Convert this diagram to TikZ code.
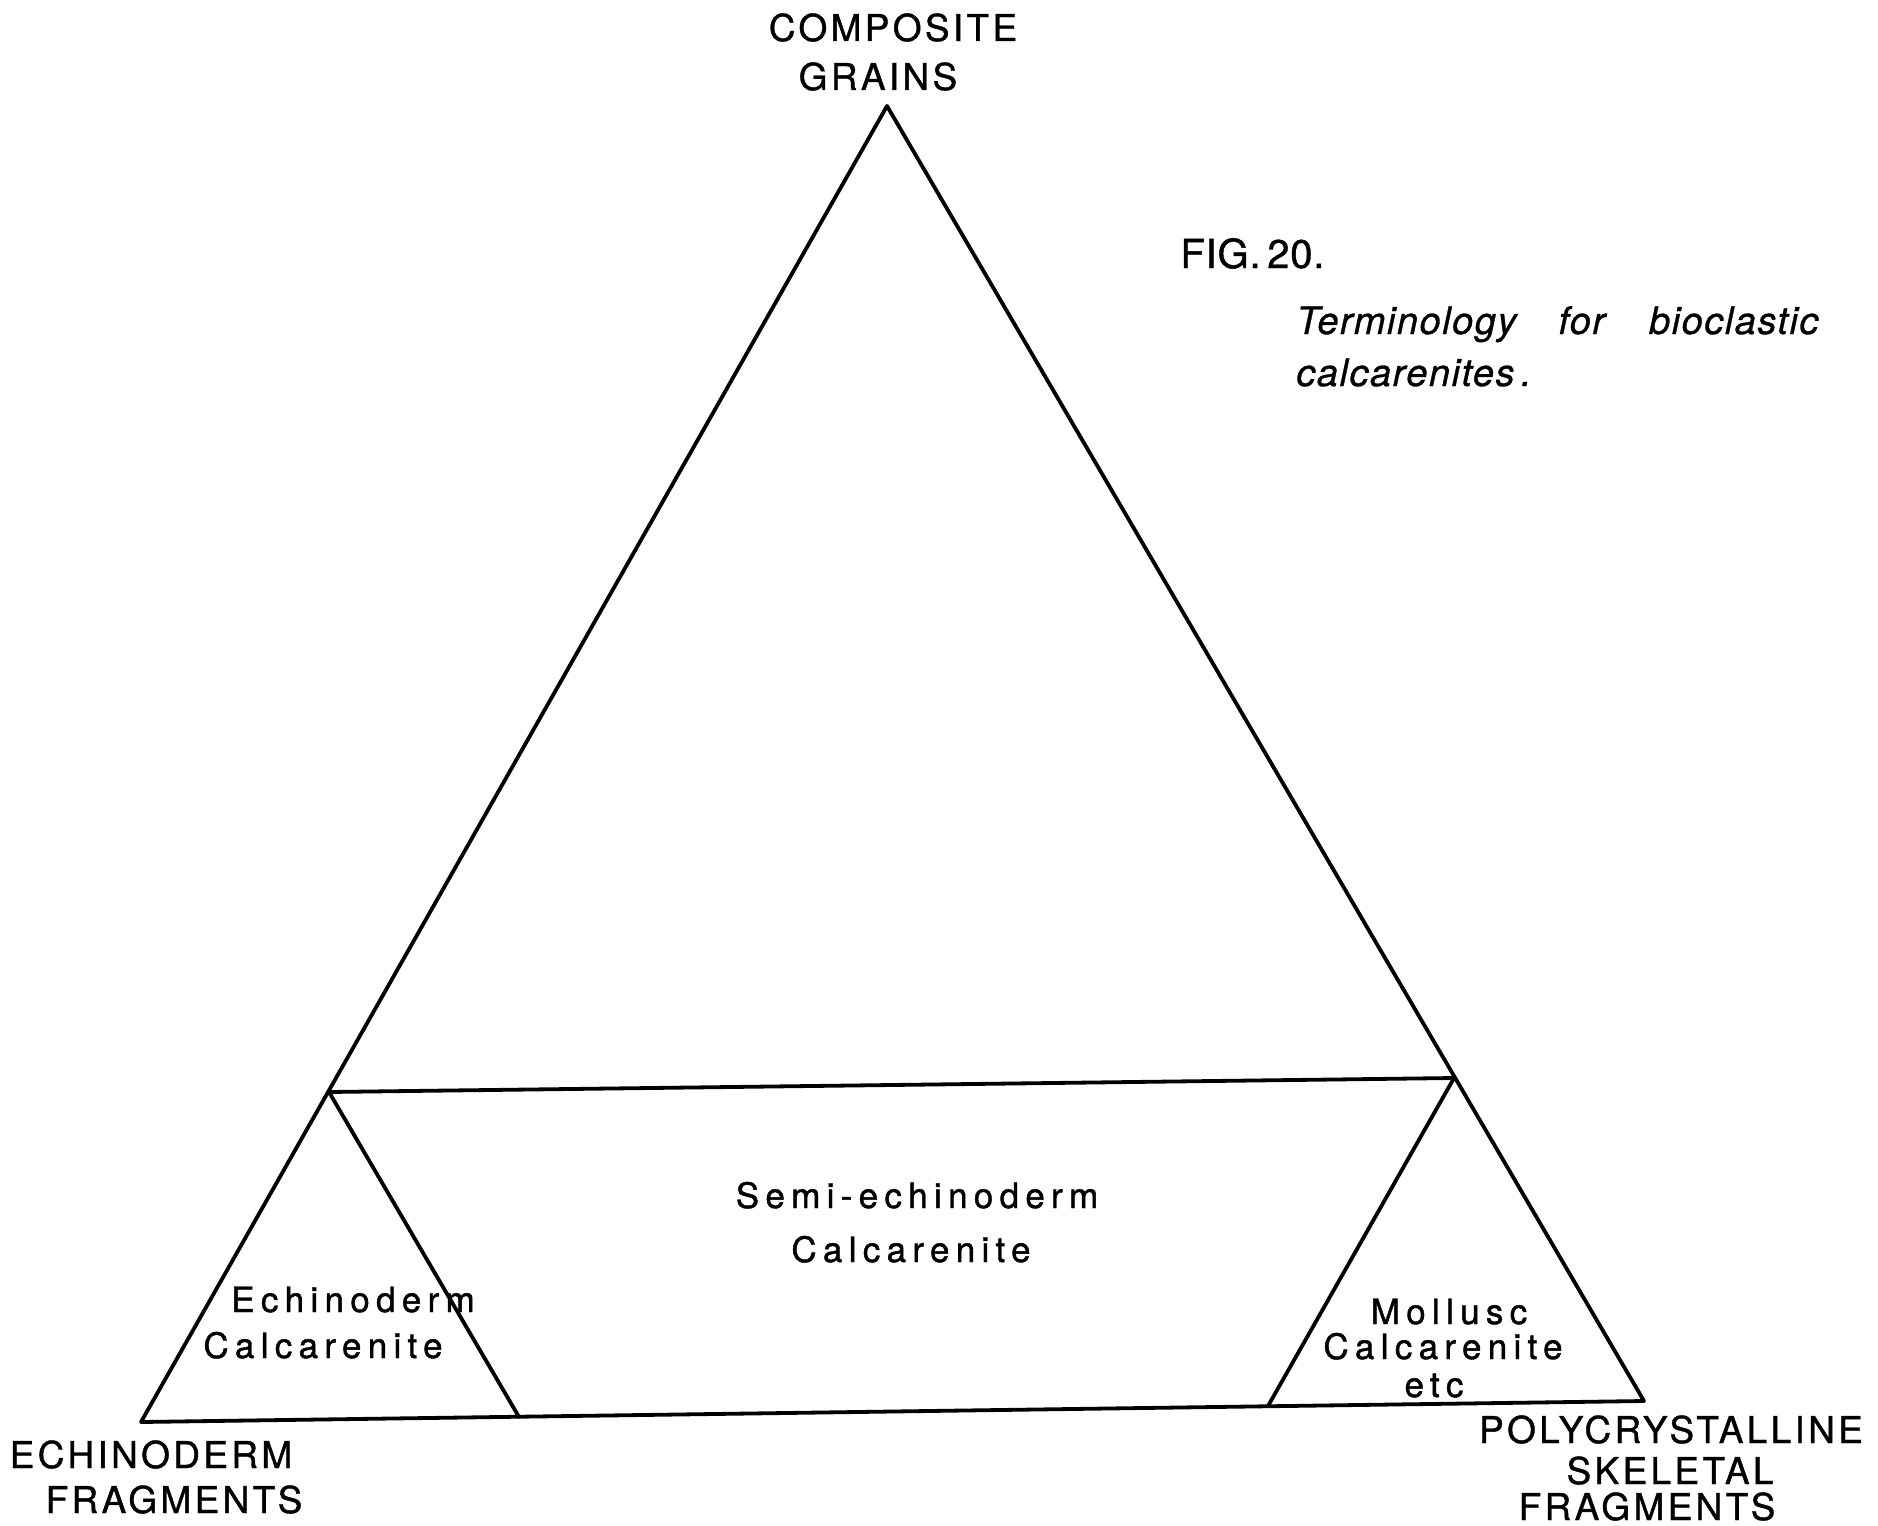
\documentclass[tikz,border=0pt]{standalone}
\usepackage{fontspec}
\setmainfont{TeX Gyre Heros}
\newfontfamily\capsfont[LetterSpace=9,FakeBold=1]{TeX Gyre Heros}
\newfontfamily\lowfont[LetterSpace=18,FakeBold=1.2]{TeX Gyre Heros}
\newfontfamily\figfont[LetterSpace=2,FakeBold=1]{TeX Gyre Heros}
\newfontfamily\capfont[LetterSpace=4,FakeBold=0.8]{TeX Gyre Heros}
\begin{document}
\begin{tikzpicture}[x=0.5pt,y=-0.5pt,
  edge/.style={line width=1.9pt, line join=round, line cap=round},
  capl/.style={font=\capsfont\fontsize{18.5}{22}\selectfont, anchor=base, inner sep=0pt},
  lowl/.style={font=\lowfont\fontsize{17.5}{20}\selectfont, anchor=base, inner sep=0pt},
  figl/.style={font=\figfont\fontsize{20}{24}\selectfont, anchor=base west, inner sep=0pt},
  capt/.style={font=\capfont\itshape\fontsize{19}{23}\selectfont, anchor=base west, inner sep=0pt}]
\useasboundingbox (0,0) rectangle (1878,1525);
% vertices
\coordinate (A) at (887,106);
\coordinate (BL) at (141,1422);
\coordinate (BR) at (1644,1401);
\coordinate (LJ) at (329,1092);
\coordinate (RJ) at (1454,1078);
\coordinate (IL) at (519,1417);
\coordinate (IR) at (1268,1406);
% lines
\draw[edge] (A) -- (BL) -- (BR) -- cycle;
\draw[edge] (LJ) -- (RJ);
\draw[edge] (LJ) -- (IL);
\draw[edge] (RJ) -- (IR);
% apex labels
\node[capl] (comp1) at (893,41) {COMPOSITE};
\node[capl] (comp2) at (878,90) {GRAINS};
% caption
\node[figl] (fig) at (1180,268) {FIG.\,20.};
\node[capt] (cap1) at (1296,334) {Terminology\hspace{21pt}for\hspace{22pt}bioclastic};
\node[capt] (cap2) at (1296,386) {calcarenites\,.};
% field labels
\node[lowl] (semi1) at (917,1208) {Semi-echinoderm};
\node[lowl] (semi2) at (911,1262) {Calcarenite};
\node[lowl] (echi1) at (353,1312) {Echinoderm};
\node[lowl] (echi2) at (323,1358) {Calcarenite};
\node[lowl] (moll1) at (1449,1324) {Mollusc};
\node[lowl] (moll2) at (1443,1359) {Calcarenite};
\node[lowl] (moll3) at (1434,1397) {etc};
% corner labels
\node[capl] (ef1) at (151,1468) {ECHINODERM};
\node[capl] (ef2) at (174,1513) {FRAGMENTS};
\node[capl] (pf1) at (1671,1443) {POLYCRYSTALLINE};
\node[capl] (pf2) at (1670,1484) {SKELETAL};
\node[capl] (pf3) at (1647,1520) {FRAGMENTS};
\end{tikzpicture}
\end{document}
